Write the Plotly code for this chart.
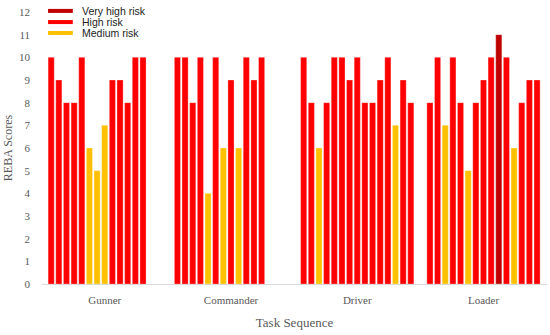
import plotly.graph_objects as go

groups = ["Gunner", "Commander", "Driver", "Loader"]
gunner = [10, 9, 8, 8, 10, 6, 5, 7, 9, 9, 8, 10, 10]
commander = [10, 10, 8, 10, 4, 10, 6, 9, 6, 10, 9, 10]
driver = [10, 8, 6, 8, 10, 10, 9, 10, 8, 8, 9, 10, 7, 9, 8]
loader = [8, 10, 7, 10, 8, 5, 8, 9, 10, 11, 10, 6, 8, 9, 9]
series = [gunner, commander, driver, loader]

levels = ["Very high risk", "High risk", "Medium risk"]
colors = {"Very high risk": "#C00000", "High risk": "#FF0000", "Medium risk": "#FFC000"}
y_ticks = list(range(0, 13))

SLOTS = 15
GROUP_STEP = 16.5


def level_of(v):
    if v >= 11:
        return "Very high risk"
    if v >= 8:
        return "High risk"
    return "Medium risk"


xs = {k: [] for k in levels}
ys = {k: [] for k in levels}
for gi, vals in enumerate(series):
    for ti, v in enumerate(vals):
        lv = level_of(v)
        xs[lv].append(gi * GROUP_STEP + ti)
        ys[lv].append(v)

fig = go.Figure()
for lv in levels:
    fig.add_trace(go.Bar(
        x=xs[lv], y=ys[lv], name=lv, showlegend=False,
        width=0.8,
        marker=dict(color=colors[lv], line=dict(color="rgba(255,255,255,0.6)", width=0.5)),
    ))

# Compact legend: short thick lines with labels, as in the reference
legend_x0, legend_x1, legend_tx = 0.012, 0.061, 0.075
legend_rows = [1.004, 0.963, 0.923]
for lv, yy in zip(levels, legend_rows):
    fig.add_shape(type="line", xref="paper", yref="paper",
                  x0=legend_x0, x1=legend_x1, y0=yy, y1=yy,
                  line=dict(color=colors[lv], width=4))
    fig.add_annotation(xref="paper", yref="paper", x=legend_tx, y=yy,
                       text=lv, showarrow=False, xanchor="left", yanchor="middle",
                       font=dict(family="Liberation Sans, Arial, sans-serif", size=10.5, color="#222222"))

tickvals = [gi * GROUP_STEP + (SLOTS - 1) / 2 for gi in range(len(groups))]

serif = "Liberation Serif, Times New Roman, serif"
fig.update_layout(
    width=550, height=335,
    margin=dict(l=42, r=3, t=12, b=51),
    paper_bgcolor="white", plot_bgcolor="white",
    barmode="overlay",
    showlegend=False,
    xaxis=dict(
        range=[-1.2, 3 * GROUP_STEP + 14 + 1.3],
        tickvals=tickvals, ticktext=groups,
        showgrid=False, zeroline=False,
        showline=True, linecolor="#D9D9D9", linewidth=1,
        ticks="", ticklabelstandoff=6, automargin=False,
        tickfont=dict(family=serif, size=11, color="#595959"),
        title=dict(text="Task Sequence", font=dict(family=serif, size=13, color="#595959"), standoff=12),
    ),
    yaxis=dict(
        range=[0, 12],
        tickvals=y_ticks,
        showgrid=False, zeroline=False, showline=False,
        ticks="", ticklabelstandoff=11, automargin=True,
        tickfont=dict(family=serif, size=11, color="#595959"),
        title=dict(text="REBA Scores", font=dict(family=serif, size=12, color="#595959"), standoff=3),
    ),
)

fig.write_html("out.html",
               config={"displayModeBar": False},
               post_script="document.body.style.margin='0';document.body.style.padding='0';")
